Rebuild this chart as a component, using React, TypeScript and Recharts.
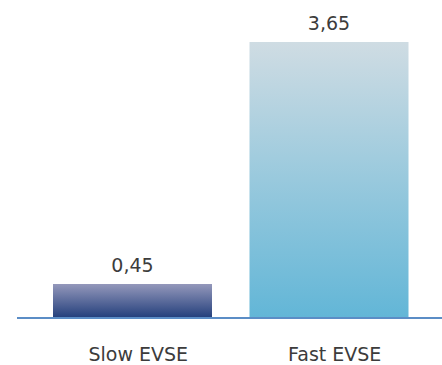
import { BarChart, Bar, XAxis, YAxis, LabelList, Cell } from 'recharts';

const categories = ['Slow EVSE', 'Fast EVSE'];
const values = [0.45, 3.65];

// top / bottom colours of each bar's gradient
const GRADIENTS = [
  { id: 'slowGrad', top: '#9498bb', bottom: '#223e7b' },
  { id: 'fastGrad', top: '#cfdce3', bottom: '#62b6d7' },
];

const data = categories.map((name, i) => ({ name, value: values[i] }));

const FONT = "'DejaVu Sans', sans-serif";
const TEXT = '#3c3c3c';

export default function App() {
  return (
    <div style={{ position: 'absolute', left: 0, top: 0, background: '#fff' }}>
      <BarChart
        width={442}
        height={365}
        data={data}
        margin={{ top: 42, right: 0, left: 17, bottom: 0 }}
      >
        <defs>
          {GRADIENTS.map((g) => (
            <linearGradient key={g.id} id={g.id} x1="0" y1="0" x2="0" y2="1">
              <stop offset="0%" stopColor={g.top} />
              <stop offset="100%" stopColor={g.bottom} />
            </linearGradient>
          ))}
        </defs>
        <YAxis hide domain={[0, 3.65]} />
        <XAxis
          dataKey="name"
          height={47}
          padding={{ left: 17, right: 15 }}
          axisLine={{ stroke: '#5b8dc6', strokeWidth: 2 }}
          tickLine={false}
          tickSize={0}
          tickMargin={30}
          tick={{ fill: TEXT, fontSize: 19, fontFamily: FONT, dx: 6 }}
          interval={0}
        />
        <Bar dataKey="value" barSize={159} isAnimationActive={false}>
          {data.map((d, i) => (
            <Cell key={d.name} fill={`url(#${GRADIENTS[i].id})`} />
          ))}
          <LabelList
            dataKey="value"
            position="top"
            offset={12}
            formatter={(v: number) => String(v).replace('.', ',')}
            style={{ fill: TEXT, fontSize: 19, fontFamily: FONT }}
          />
        </Bar>
      </BarChart>
    </div>
  );
}
